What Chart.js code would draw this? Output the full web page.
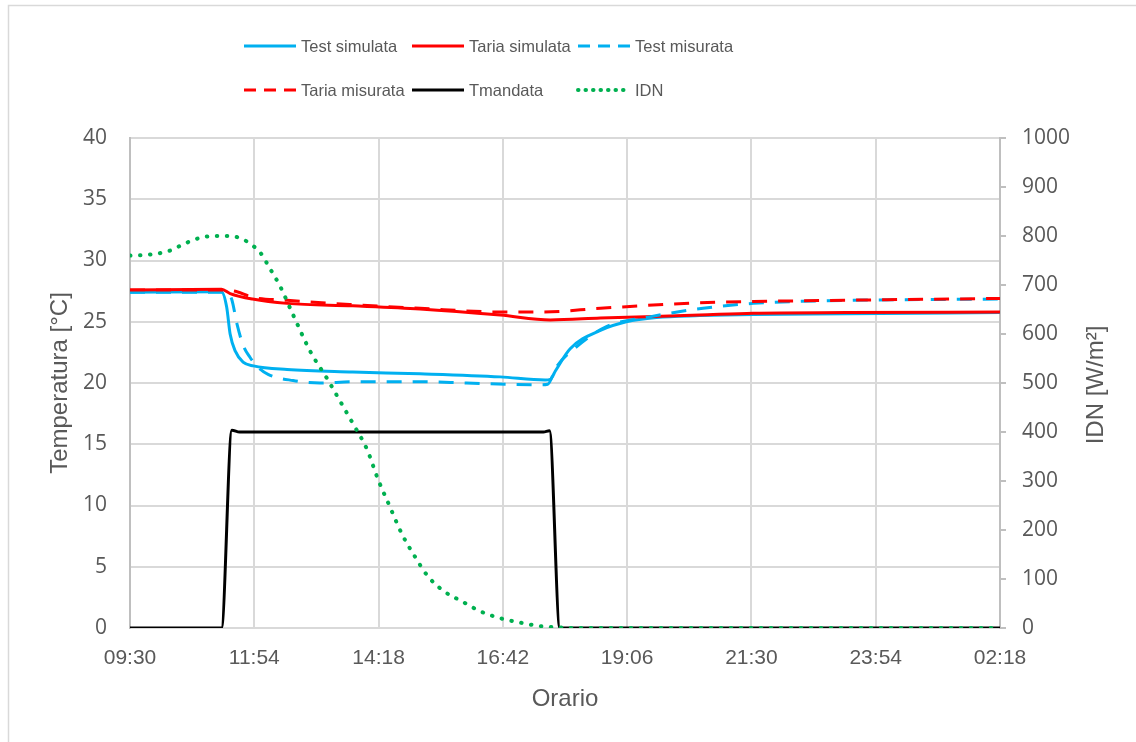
<!DOCTYPE html>
<html>
<head>
<meta charset="utf-8">
<script src="https://cdn.jsdelivr.net/npm/chart.js@4.4.1/dist/chart.umd.min.js"></script>
<style>
  html, body { margin: 0; padding: 0; background: #ffffff; }
  #wrap { position: relative; width: 1136px; height: 742px; }
  canvas { display: block; }
</style>
</head>
<body>
<div id="wrap"><canvas id="chart" width="1136" height="742"></canvas></div>
<script>
// Times are minutes from midnight of the first day (values above 1440 fall on the next day).
const xTickValues = [570, 714, 858, 1002, 1146, 1290, 1434, 1578];
const xTickLabels = ['09:30', '11:54', '14:18', '16:42', '19:06', '21:30', '23:54', '02:18'];

// Test simulata [°C]
const testSimTime = [570, 676, 682, 686, 692, 701, 713, 752, 828, 906, 999, 1051, 1057, 1063, 1080, 1115, 1145, 1180, 1230, 1292, 1400, 1578];
const testSimVal  = [27.4, 27.45, 26.2, 24.0, 22.6, 21.7, 21.4, 21.1, 20.9, 20.75, 20.5, 20.25, 20.3, 21.0, 22.8, 24.3, 25.0, 25.35, 25.5, 25.6, 25.65, 25.75];

// Taria simulata [°C]
const tariaSimTime = [570, 676, 686, 712, 752, 828, 906, 999, 1057, 1115, 1230, 1292, 1400, 1578];
const tariaSimVal  = [27.6, 27.65, 27.3, 26.85, 26.5, 26.3, 26.05, 25.55, 25.15, 25.3, 25.55, 25.7, 25.75, 25.8];

// Test misurata [°C]
const testMisTime = [570, 683, 688, 694, 701, 709, 718, 730, 759, 790, 828, 906, 960, 1045, 1054, 1064, 1083, 1122, 1172, 1234, 1292, 1408, 1578];
const testMisVal  = [27.4, 27.4, 26.8, 24.8, 23.1, 22.1, 21.3, 20.7, 20.2, 20.0, 20.1, 20.1, 20.0, 19.85, 19.9, 21.3, 22.7, 24.6, 25.4, 26.1, 26.5, 26.75, 26.85];

// Taria misurata [°C]
const tariaMisTime = [570, 680, 694, 712, 752, 828, 906, 999, 1050, 1115, 1230, 1292, 1447, 1578];
const tariaMisVal  = [27.6, 27.6, 27.45, 27.0, 26.75, 26.4, 26.1, 25.8, 25.8, 26.1, 26.55, 26.65, 26.8, 26.9];

// Tmandata [°C]
const tmandTime = [570, 676, 688, 697, 1049, 1056, 1068, 1578];
const tmandVal  = [0, 0, 16.15, 16.0, 16.0, 16.1, 0, 0];

// IDN [W/m²]
const idnTime = [570, 593, 616, 634, 651, 668, 686, 701, 711, 721, 732, 744, 759, 779, 798, 816, 828, 845, 857, 871, 885, 900, 915, 933, 955, 976, 999, 1022, 1045, 1068, 1091, 1578];
const idnVal  = [760, 762, 770, 785, 796, 800, 800, 793, 782, 766, 734, 697, 639, 564, 510, 455, 418, 363, 305, 248, 192, 146, 106, 76, 54, 34, 20, 11, 4, 1, 0, 0];

const toPoints = (t, v) => t.map((x, i) => ({ x: x, y: v[i] }));

const TEXT = '#595959';
const GRID = '#d9d9d9';
const AXIS = '#bfbfbf';
const SANS = "'Liberation Sans', Arial, sans-serif";
const TICK_FONT = "'Open Sans', 'Noto Sans', sans-serif";

function series(label, t, v, color, axis, dash, legendDash, order, extra) {
  return Object.assign({
    label: label,
    data: toPoints(t, v),
    yAxisID: axis,
    borderColor: color,
    backgroundColor: color,
    borderWidth: 3,
    borderDash: dash,
    legendDash: legendDash,
    borderCapStyle: 'butt',
    pointRadius: 0,
    pointHoverRadius: 0,
    fill: false,
    cubicInterpolationMode: 'monotone',
    order: order
  }, extra || {});
}

// Legend laid out as a 3-column grid above the plot
const legendCols = [244, 412, 578];
const legendRows = [46, 90];

const gridLegend = {
  id: 'gridLegend',
  beforeDraw(chart) {
    const ctx = chart.ctx;
    ctx.save();
    ctx.strokeStyle = GRID;
    ctx.lineWidth = 1.5;
    ctx.strokeRect(8.5, 5.5, 1200, 800);
    ctx.restore();
  },
  afterDraw(chart) {
    const ctx = chart.ctx;
    ctx.save();
    chart.data.datasets.forEach((ds, i) => {
      const x0 = legendCols[i % 3];
      const y = legendRows[Math.floor(i / 3)];
      ctx.beginPath();
      ctx.strokeStyle = ds.borderColor;
      ctx.lineWidth = ds.borderWidth;
      ctx.lineCap = ds.borderCapStyle;
      ctx.setLineDash(ds.legendDash || []);
      ctx.moveTo(x0, y);
      ctx.lineTo(x0 + 52, y);
      ctx.stroke();
      ctx.setLineDash([]);
      ctx.fillStyle = TEXT;
      ctx.font = '16.5px ' + SANS;
      ctx.textAlign = 'left';
      ctx.textBaseline = 'middle';
      ctx.fillText(ds.label, x0 + 57, y + 1);
    });
    // secondary axis title, reading bottom to top
    ctx.translate(1096, 385);
    ctx.rotate(-Math.PI / 2);
    ctx.fillStyle = TEXT;
    ctx.font = '24px ' + SANS;
    ctx.textAlign = 'center';
    ctx.textBaseline = 'middle';
    ctx.fillText('IDN [W/m²]', 0, 0);
    ctx.restore();
  }
};

new Chart(document.getElementById('chart'), {
  type: 'line',
  data: {
    datasets: [
      series('Test simulata', testSimTime, testSimVal, '#00B0F0', 'y', [], [], 6),
      series('Taria simulata', tariaSimTime, tariaSimVal, '#FF0000', 'y', [], [], 5),
      series('Test misurata', testMisTime, testMisVal, '#00B0F0', 'y', [15, 11], [12, 8], 4),
      series('Taria misurata', tariaMisTime, tariaMisVal, '#FF0000', 'y', [15, 11], [12, 8], 3),
      series('Tmandata', tmandTime, tmandVal, '#000000', 'y', [], [], 2),
      series('IDN', idnTime, idnVal, '#00B050', 'y1', [0.5, 9.5], [0.5, 7], 1, { borderWidth: 4, borderCapStyle: 'round' })
    ]
  },
  options: {
    responsive: false,
    animation: false,
    devicePixelRatio: 1,
    layout: { padding: { top: 138, left: 0, right: 0, bottom: 0 } },
    plugins: {
      legend: { display: false },
      tooltip: { enabled: false }
    },
    scales: {
      x: {
        type: 'linear',
        min: 570,
        max: 1578,
        afterBuildTicks: s => { s.ticks = xTickValues.map(v => ({ value: v })); },
        afterFit: s => { s.height = 114; },
        ticks: {
          autoSkip: false,
          maxRotation: 0,
          padding: 18,
          color: TEXT,
          font: { family: SANS, size: 21 },
          callback: (v, i) => xTickLabels[i]
        },
        grid: { color: GRID, lineWidth: 2, drawTicks: false },
        border: { color: GRID, width: 2 },
        title: {
          display: true,
          text: 'Orario',
          color: TEXT,
          font: { family: SANS, size: 24 },
          padding: { top: 0, bottom: 28 }
        }
      },
      y: {
        position: 'left',
        min: 0,
        max: 40,
        afterFit: s => { s.width = 130; },
        ticks: {
          stepSize: 5,
          padding: 23,
          color: TEXT,
          font: { family: TICK_FONT, size: 21 }
        },
        grid: { color: GRID, lineWidth: 2, drawTicks: false },
        border: { color: AXIS, width: 2 },
        title: {
          display: true,
          text: 'Temperatura [°C]',
          color: TEXT,
          font: { family: SANS, size: 24 },
          padding: { top: 46, bottom: 0 }
        }
      },
      y1: {
        position: 'right',
        min: 0,
        max: 1000,
        afterFit: s => { s.width = 136; },
        ticks: {
          stepSize: 100,
          padding: 16,
          color: TEXT,
          font: { family: TICK_FONT, size: 21 },
          callback: v => String(v)
        },
        grid: { drawOnChartArea: false, drawTicks: true, tickLength: 6, color: AXIS, lineWidth: 2 },
        border: { color: AXIS, width: 2 }
      }
    }
  },
  plugins: [gridLegend]
});
</script>
</body>
</html>
